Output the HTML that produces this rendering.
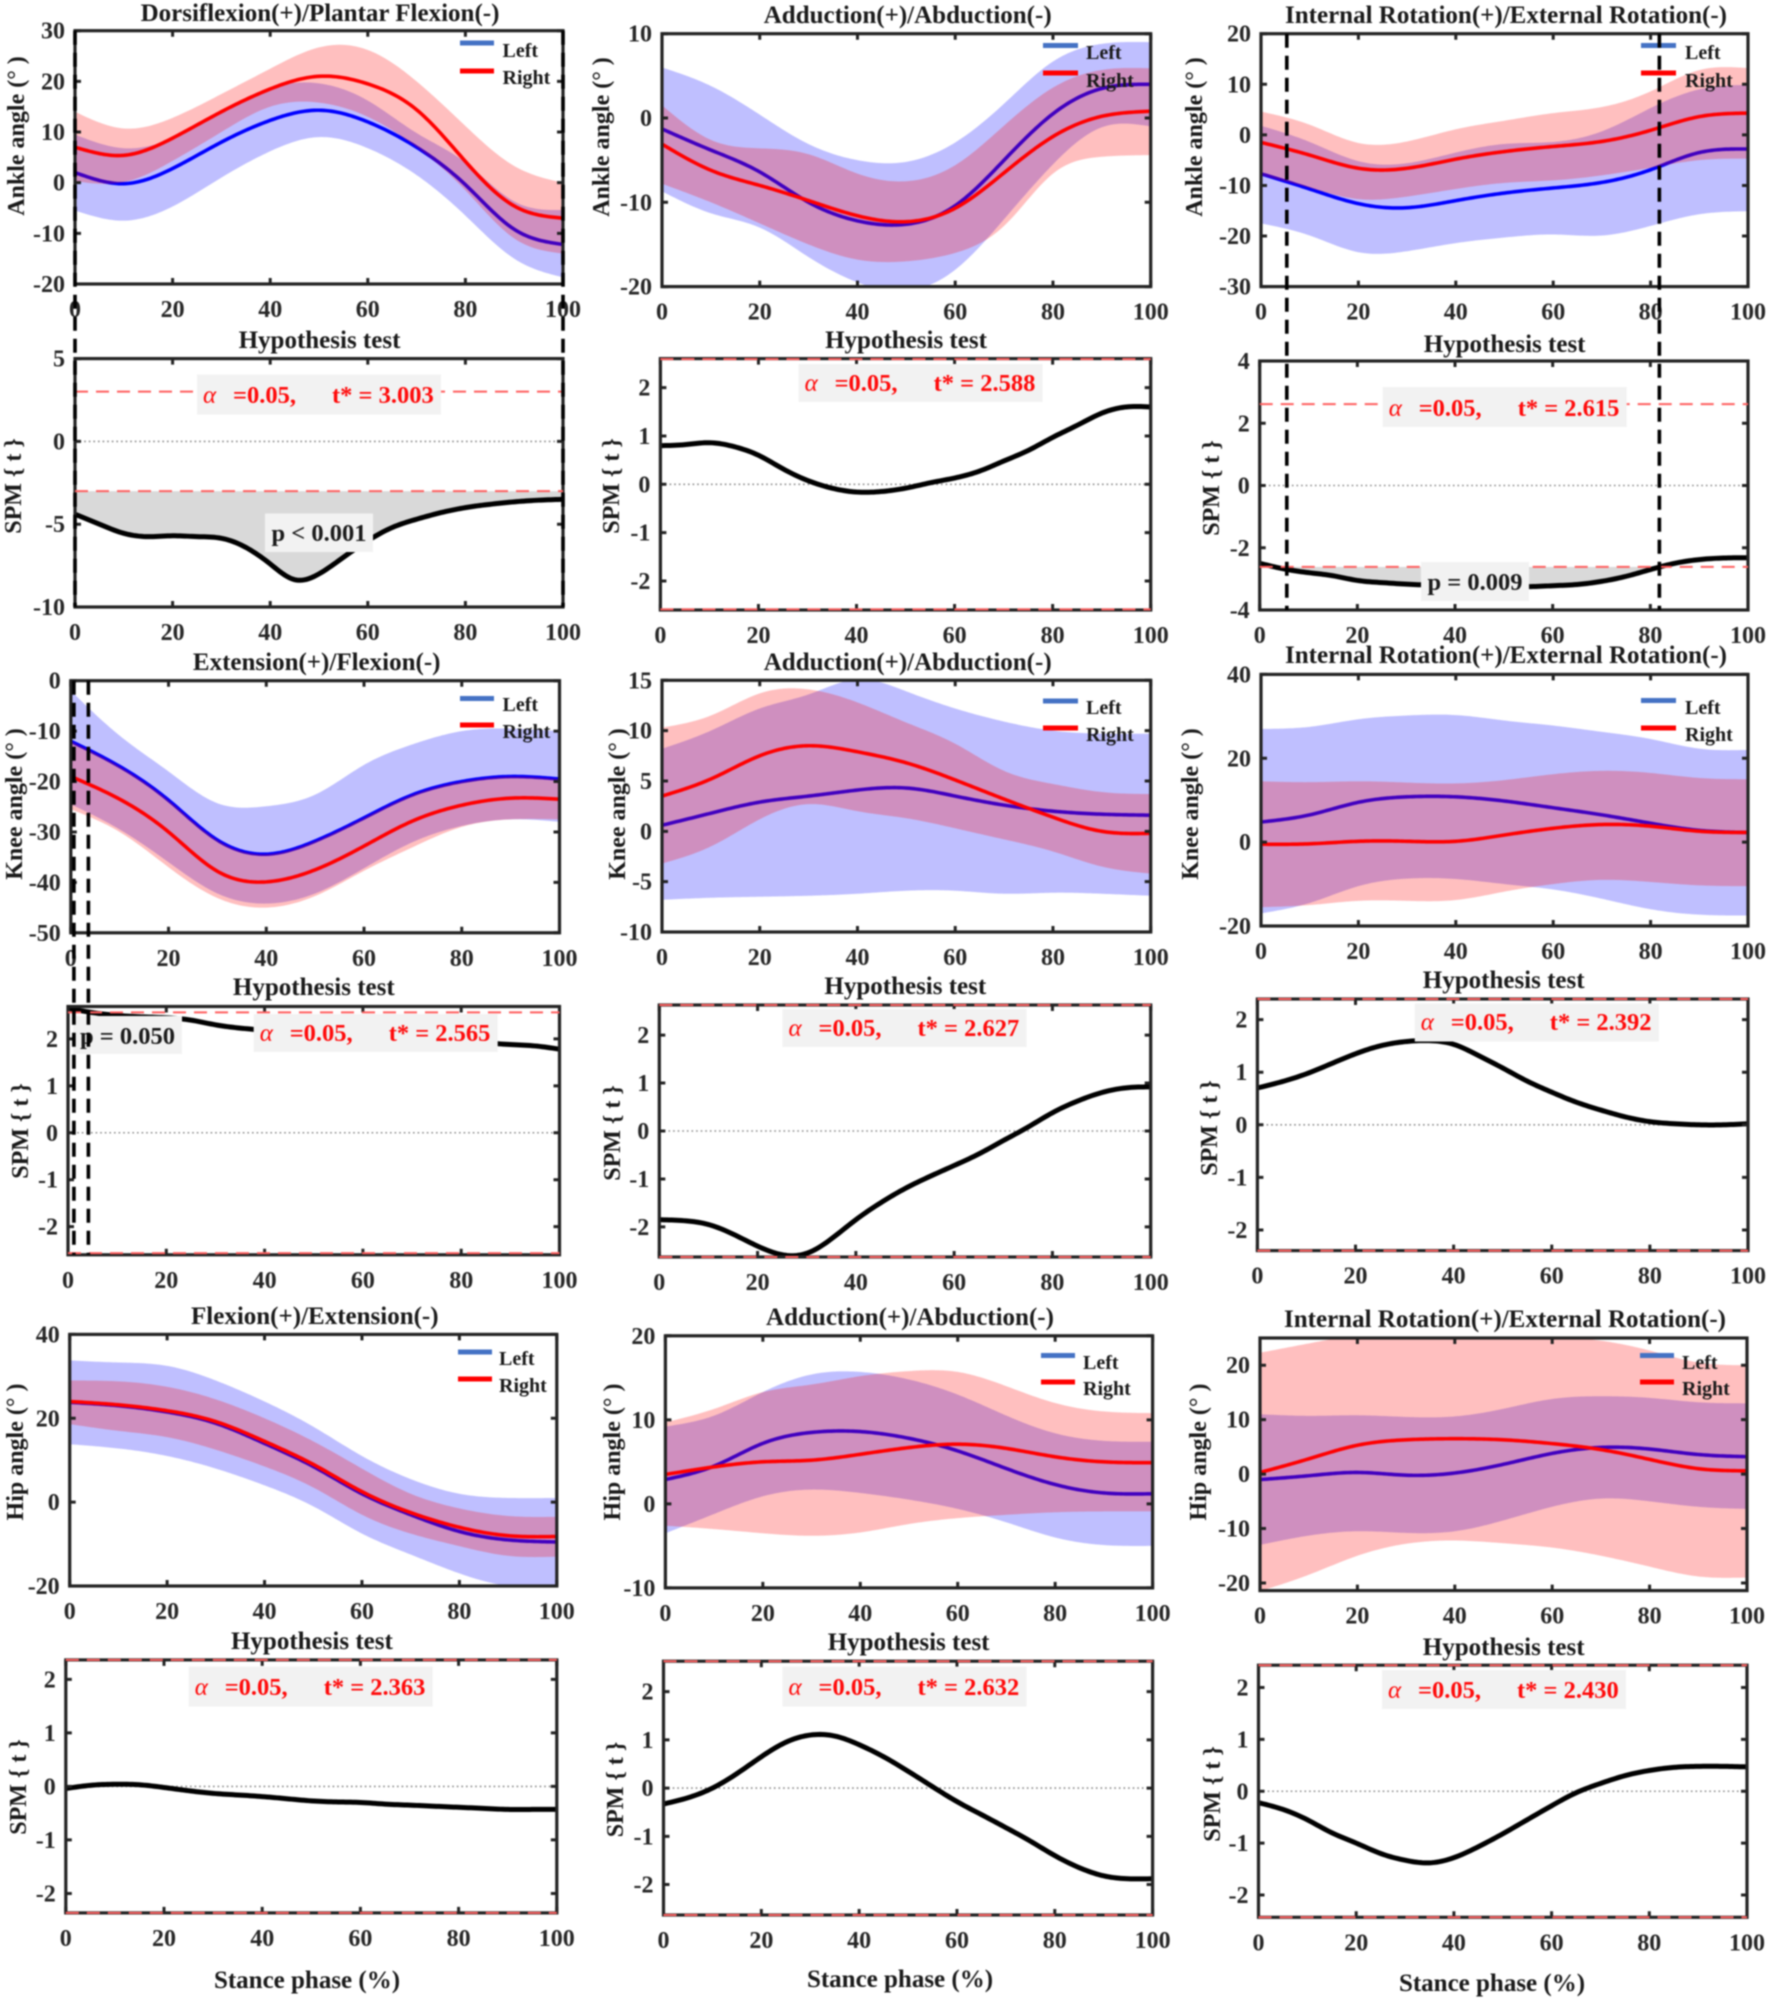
<!DOCTYPE html>
<html lang="en">
<head>
<meta charset="utf-8">
<title>Ankle, knee and hip angles with SPM hypothesis tests</title>
<style>
html,body{margin:0;padding:0;background:#fff;}
svg{display:block;filter:blur(0.8px);}
text{font-family:"Liberation Serif",serif;font-weight:bold;fill:#1a1a1a;}
.title{font-size:25px;text-anchor:middle;}
.ylab{font-size:24px;text-anchor:middle;}
.xlab{font-size:25px;text-anchor:middle;}
.tick{font-size:24px;fill:#262626;}
.leg{font-size:20px;}
.ann{font-size:24.5px;fill:#ff0a0a;}
.alpha{font-size:25px;font-style:italic;font-weight:normal;fill:#ff0a0a;}
.pval{font-size:24.5px;text-anchor:middle;}
</style>
</head>
<body>
<svg id="figure" xmlns="http://www.w3.org/2000/svg" width="1772" height="2001" viewBox="0 0 1772 2001">
<rect width="1772" height="2001" fill="#fff"/>
<g id="marks"></g>

<g id="titles">
<text class="title" x="320" y="21">Dorsiflexion(+)/Plantar Flexion(-)</text>
<text class="title" x="907.7" y="23">Adduction(+)/Abduction(-)</text>
<text class="title" x="1506" y="23">Internal Rotation(+)/External Rotation(-)</text>
<text class="title" x="319.5" y="348">Hypothesis test</text>
<text class="title" x="906" y="348">Hypothesis test</text>
<text class="title" x="1504.6" y="352">Hypothesis test</text>
<text class="title" x="316.7" y="670">Extension(+)/Flexion(-)</text>
<text class="title" x="907.7" y="670">Adduction(+)/Abduction(-)</text>
<text class="title" x="1506" y="663">Internal Rotation(+)/External Rotation(-)</text>
<text class="title" x="313.8" y="995">Hypothesis test</text>
<text class="title" x="905.3" y="994">Hypothesis test</text>
<text class="title" x="1503.7" y="988">Hypothesis test</text>
<text class="title" x="314.8" y="1324">Flexion(+)/Extension(-)</text>
<text class="title" x="910" y="1325">Adduction(+)/Abduction(-)</text>
<text class="title" x="1505" y="1327">Internal Rotation(+)/External Rotation(-)</text>
<text class="title" x="311.9" y="1649">Hypothesis test</text>
<text class="title" x="908.6" y="1650">Hypothesis test</text>
<text class="title" x="1503.7" y="1655">Hypothesis test</text>
</g>

<g id="ylabels">
<text class="ylab" transform="translate(24 136) rotate(-90)">Ankle angle (° )</text>
<text class="ylab" transform="translate(609 137) rotate(-90)">Ankle angle (° )</text>
<text class="ylab" transform="translate(1202 137) rotate(-90)">Ankle angle (° )</text>
<text class="ylab" transform="translate(21 486) rotate(-90)">SPM { t }</text>
<text class="ylab" transform="translate(619 486) rotate(-90)">SPM { t }</text>
<text class="ylab" transform="translate(1219 488) rotate(-90)">SPM { t }</text>
<text class="ylab" transform="translate(22 804) rotate(-90)">Knee angle (° )</text>
<text class="ylab" transform="translate(625 804) rotate(-90)">Knee angle (° )</text>
<text class="ylab" transform="translate(1198 804) rotate(-90)">Knee angle (° )</text>
<text class="ylab" transform="translate(28 1131) rotate(-90)">SPM { t }</text>
<text class="ylab" transform="translate(620 1133) rotate(-90)">SPM { t }</text>
<text class="ylab" transform="translate(1217 1128) rotate(-90)">SPM { t }</text>
<text class="ylab" transform="translate(23 1452) rotate(-90)">Hip angle (° )</text>
<text class="ylab" transform="translate(620 1452) rotate(-90)">Hip angle (° )</text>
<text class="ylab" transform="translate(1206 1452) rotate(-90)">Hip angle (° )</text>
<text class="ylab" transform="translate(26 1787) rotate(-90)">SPM { t }</text>
<text class="ylab" transform="translate(623 1789.5) rotate(-90)">SPM { t }</text>
<text class="ylab" transform="translate(1220 1794) rotate(-90)">SPM { t }</text>
</g>

<g id="xlabels">
<text class="xlab" x="307" y="1988">Stance phase (%)</text>
<text class="xlab" x="900" y="1987">Stance phase (%)</text>
<text class="xlab" x="1492" y="1991">Stance phase (%)</text>
</g>

<g id="legends">
<g>
<rect x="460" y="40.5" width="34" height="5" fill="#4472c4"/><text class="leg" x="502.5" y="57">Left</text>
<rect x="460" y="68.5" width="34" height="5" fill="#ff0000"/><text class="leg" x="502.5" y="84">Right</text></g>
<g>
<rect x="1043" y="43" width="35" height="5" fill="#4472c4"/><text class="leg" x="1086" y="59">Left</text>
<rect x="1043" y="70.5" width="35" height="5" fill="#ff0000"/><text class="leg" x="1086" y="87">Right</text></g>
<g>
<rect x="1641" y="43" width="35" height="5" fill="#4472c4"/><text class="leg" x="1685" y="59">Left</text>
<rect x="1641" y="70.5" width="35" height="5" fill="#ff0000"/><text class="leg" x="1685" y="87">Right</text></g>
<g>
<rect x="460" y="696" width="34" height="5" fill="#4472c4"/><text class="leg" x="502.5" y="711">Left</text>
<rect x="460" y="722.5" width="34" height="5" fill="#ff0000"/><text class="leg" x="502.5" y="738">Right</text></g>
<g>
<rect x="1043" y="698.5" width="35" height="5" fill="#4472c4"/><text class="leg" x="1086" y="714">Left</text>
<rect x="1043" y="725.5" width="35" height="5" fill="#ff0000"/><text class="leg" x="1086" y="741">Right</text></g>
<g>
<rect x="1641" y="698" width="35" height="5" fill="#4472c4"/><text class="leg" x="1685" y="714">Left</text>
<rect x="1641" y="725.5" width="35" height="5" fill="#ff0000"/><text class="leg" x="1685" y="741">Right</text></g>
<g>
<rect x="458" y="1349.5" width="34" height="5" fill="#4472c4"/><text class="leg" x="499" y="1365">Left</text>
<rect x="458" y="1376.5" width="34" height="5" fill="#ff0000"/><text class="leg" x="499" y="1392">Right</text></g>
<g>
<rect x="1041" y="1353" width="34" height="5" fill="#4472c4"/><text class="leg" x="1083" y="1369">Left</text>
<rect x="1041" y="1379.5" width="34" height="5" fill="#ff0000"/><text class="leg" x="1083" y="1395">Right</text></g>
<g>
<rect x="1640" y="1353" width="34" height="5" fill="#4472c4"/><text class="leg" x="1682" y="1369">Left</text>
<rect x="1640" y="1379.5" width="34" height="5" fill="#ff0000"/><text class="leg" x="1682" y="1395">Right</text></g>
</g>

<g id="annotations">
<g><rect x="197" y="374.6" width="244" height="40" fill="#f2f2f2"/><text y="403"><tspan class="alpha" x="203">α</tspan><tspan class="ann" x="233">=0.05,</tspan><tspan class="ann" x="332">t* = 3.003</tspan></text></g>
<g><rect x="798.6" y="364" width="244" height="38" fill="#f2f2f2"/><text y="391"><tspan class="alpha" x="804.6">α</tspan><tspan class="ann" x="834.6">=0.05,</tspan><tspan class="ann" x="933.6">t* = 2.588</tspan></text></g>
<g><rect x="1382.7" y="387" width="244" height="40" fill="#f2f2f2"/><text y="416"><tspan class="alpha" x="1388.7">α</tspan><tspan class="ann" x="1418.7">=0.05,</tspan><tspan class="ann" x="1517.7">t* = 2.615</tspan></text></g>
<g><rect x="253.7" y="1014" width="244" height="38" fill="#f2f2f2"/><text y="1041"><tspan class="alpha" x="259.7">α</tspan><tspan class="ann" x="289.7">=0.05,</tspan><tspan class="ann" x="388.7">t* = 2.565</tspan></text></g>
<g><rect x="782.5" y="1009" width="244" height="38" fill="#f2f2f2"/><text y="1036"><tspan class="alpha" x="788.5">α</tspan><tspan class="ann" x="818.5">=0.05,</tspan><tspan class="ann" x="917.5">t* = 2.627</tspan></text></g>
<g><rect x="1414.8" y="1003.5" width="244" height="38" fill="#f2f2f2"/><text y="1030"><tspan class="alpha" x="1420.8">α</tspan><tspan class="ann" x="1450.8">=0.05,</tspan><tspan class="ann" x="1549.8">t* = 2.392</tspan></text></g>
<g><rect x="188.7" y="1666.6" width="244" height="40" fill="#f2f2f2"/><text y="1695"><tspan class="alpha" x="194.7">α</tspan><tspan class="ann" x="224.7">=0.05,</tspan><tspan class="ann" x="323.7">t* = 2.363</tspan></text></g>
<g><rect x="782.5" y="1666.6" width="244" height="40" fill="#f2f2f2"/><text y="1695"><tspan class="alpha" x="788.5">α</tspan><tspan class="ann" x="818.5">=0.05,</tspan><tspan class="ann" x="917.5">t* = 2.632</tspan></text></g>
<g><rect x="1382" y="1670" width="244" height="39" fill="#f2f2f2"/><text y="1698"><tspan class="alpha" x="1388">α</tspan><tspan class="ann" x="1418">=0.05,</tspan><tspan class="ann" x="1517">t* = 2.430</tspan></text></g>
<g><rect x="265" y="513.5" width="108" height="38.5" fill="#f2f2f2"/><text class="pval" x="319" y="541">p &lt; 0.001</text></g>
<g><rect x="1421" y="562" width="108" height="39" fill="#f2f2f2"/><text class="pval" x="1475" y="590">p = 0.009</text></g>
<g><rect x="73" y="1016" width="109" height="38" fill="#f2f2f2"/><text class="pval" x="127.5" y="1044">p = 0.050</text></g>
</g>
<g id="overlay"></g>
</svg>

<script>
// Shared x positions of the samples
const stanceGrid = [0,10,20,30,40,50,60,70,80,90,100];
const spmGrid = [0,5,10,15,20,25,30,35,40,45,50,55,60,65,70,75,80,85,90,95,100];
const xTickValues = [0,20,40,60,80,100];
const xTickLabels = ['0','20','40','60','80','100'];

// Ankle dorsiflexion / plantar flexion
const ankleSagLeftMean = [2,-0.2,2.8,8,12.3,14.3,12,7,-0.4,-9.2,-12.2];
const ankleSagLeftUpper = [9.5,6.8,8.8,14,18.7,19.6,16.2,9.8,4,-3.7,-5.4];
const ankleSagLeftLower = [-5.5,-7.5,-4.7,1,6.2,9,6.8,1.5,-6.5,-15,-18.7];
const ankleSagRightMean = [7,5.4,8.8,14,18.5,21,19.5,14.4,4.2,-4.6,-7];
const ankleSagRightUpper = [14,10.7,12.8,17.5,22.5,26.7,26.2,20,11.2,3.3,0];
const ankleSagRightLower = [0.3,0.1,4.3,10,15,15.8,13,7,-1.5,-11,-14];
const ankleSagTicks = [-20,-10,0,10,20,30];
// Ankle adduction / abduction
const ankleFrontLeftMean = [-1.3,-3.8,-6.4,-10,-12.2,-12.6,-10.4,-5,0.5,3.5,4];
const ankleFrontLeftUpper = [6,3.8,0.4,-3.1,-5,-5.2,-2.9,1.7,6.7,8.8,9];
const ankleFrontLeftLower = [-8.7,-11.3,-13,-16.5,-19.5,-20.5,-18,-12,-5.5,-1.1,-1];
const ankleFrontRightMean = [-3.1,-6.2,-8,-9.8,-11.6,-12.3,-10.7,-6.5,-2.2,0.2,0.8];
const ankleFrontRightUpper = [1.5,-2.6,-3.6,-4.3,-6.6,-7.5,-5.6,-0.9,3.6,5.7,5.9];
const ankleFrontRightLower = [-7.8,-10,-12.5,-15,-16.8,-17,-16,-12.8,-6.6,-4.6,-4.4];
const ankleFrontTicks = [-20,-10,0,10];
// Ankle internal / external rotation
const ankleTransLeftMean = [-7.7,-10.7,-13.6,-14.4,-13,-11.5,-10.5,-9.4,-6.9,-3.5,-2.8];
const ankleTransLeftUpper = [1.8,-1.4,-5.2,-5.6,-3.5,-1.8,-1.4,0.7,5.3,9,9.9];
const ankleTransLeftLower = [-17.5,-19.9,-23.2,-23,-21.4,-20.3,-19.7,-19.9,-18,-15.7,-15.1];
const ankleTransRightMean = [-1.5,-4,-6.6,-6.6,-4.8,-3.3,-2.3,-1.3,0.9,3.6,4.3];
const ankleTransRightUpper = [4.6,2,-1.6,-1.3,1.1,2.8,4.3,5.5,8.6,12.8,13.2];
const ankleTransRightLower = [-8,-10.5,-12.7,-12.2,-10.7,-9.5,-9,-8,-6.5,-5,-4.7];
const ankleTransTicks = [-30,-20,-10,0,10,20];
// Knee extension / flexion
const kneeSagLeftMean = [-12,-17,-23.7,-31.6,-34.4,-31.8,-27.2,-22.6,-20,-19,-19.5];
const kneeSagLeftUpper = [-2,-10.9,-18,-24.3,-24.9,-22.6,-16.7,-12.6,-10,-9.5,-10];
const kneeSagLeftLower = [-24.5,-29.5,-36,-42.2,-44.2,-42.2,-37.2,-32,-28.8,-27.5,-28];
const kneeSagRightMean = [-19,-23.5,-30,-37.8,-39.9,-37.5,-32.8,-27.8,-24.7,-23.3,-23.5];
const kneeSagRightUpper = [-12,-17,-23.7,-31.6,-34.4,-31.8,-27.2,-22.6,-20,-19,-19.5];
const kneeSagRightLower = [-25.5,-30,-37,-43.1,-45,-42.7,-37.7,-33,-29,-27.5,-27.5];
const kneeSagTicks = [-50,-40,-30,-20,-10,0];
// Knee adduction / abduction
const kneeFrontLeftMean = [0.6,1.8,2.9,3.5,4.1,4.3,3.5,2.6,2,1.7,1.6];
const kneeFrontLeftUpper = [8.2,10,12.2,13.6,15.1,13.9,12.2,10.9,10,9.7,9.7];
const kneeFrontLeftLower = [-6.8,-6.6,-6.5,-6.4,-6.2,-5.9,-5.9,-6.2,-6.1,-6.2,-6.4];
const kneeFrontRightMean = [3.5,5.2,7.5,8.5,7.9,6.8,5.1,3.2,1.4,0,-0.2];
const kneeFrontRightUpper = [10.3,11.5,13.7,14.1,12.8,10.8,8.7,6,4.7,3.9,3.7];
const kneeFrontRightLower = [-3.2,-1.5,1.2,2.7,2,1.3,0.3,-0.8,-2,-3.5,-4.2];
const kneeFrontTicks = [-10,-5,0,5,10,15];
// Knee internal / external rotation
const kneeTransLeftMean = [4.8,6.5,9.5,10.8,10.8,9.8,8.2,6.5,4.5,2.8,2.3];
const kneeTransLeftUpper = [27,27.5,29.3,30.2,30.3,29,27.8,26.3,24.6,22.3,22];
const kneeTransLeftLower = [-17,-14.5,-10.5,-8.7,-8.8,-10,-11.3,-13.5,-16,-17.3,-17.5];
const kneeTransRightMean = [-0.5,-0.4,0.2,0.2,0.2,1.7,3.3,4.2,3.8,2.6,2.3];
const kneeTransRightUpper = [14.5,14.3,14.5,14.2,14,14.8,16.2,17,16.5,15.3,15];
const kneeTransRightLower = [-15.5,-15,-14,-14,-13.8,-11.8,-10,-9,-9.5,-10.3,-10.5];
const kneeTransTicks = [-20,0,20,40];
// Hip flexion / extension
const hipSagLeftMean = [23.8,23,21.5,18.8,14,8.5,2,-3,-7,-9,-9.5];
const hipSagLeftUpper = [33.8,33.3,32.5,29,24,18,11,5.5,2,1,1];
const hipSagLeftLower = [13.8,12.8,11,8,4,-1,-7.5,-12.5,-17,-20,-20.5];
const hipSagRightMean = [24,23.2,21.8,19.2,14.5,9,2.5,-2.5,-6,-8,-8.2];
const hipSagRightUpper = [29,28.8,27.5,24.5,20,14.5,8,2,-1.5,-3.3,-3.5];
const hipSagRightLower = [18.6,17,15.5,12.5,8.5,3.5,-3,-7.5,-10.5,-12.8,-13];
const hipSagTicks = [-20,0,20,40];
// Hip adduction / abduction
const hipFrontLeftMean = [2.9,4.5,7.2,8.5,8.6,7.8,6.3,4.2,2.3,1.3,1.2];
const hipFrontLeftUpper = [9.2,10.5,13.3,15.4,15.7,14.8,13,10.5,8.4,7.5,7.4];
const hipFrontLeftLower = [-3.5,-1.2,0.9,1.7,1.3,0.5,-0.6,-2.2,-4,-4.9,-5];
const hipFrontRightMean = [3.5,4.4,5,5.2,5.9,6.7,7.1,6.6,5.6,5,4.9];
const hipFrontRightUpper = [9.7,11.3,13.3,14.2,15.2,15.8,15.7,14,12,11,10.8];
const hipFrontRightLower = [-2.6,-3,-3.5,-3.8,-3.4,-2.4,-1.7,-1.3,-1,-0.9,-0.9];
const hipFrontTicks = [-10,0,10,20];
// Hip internal / external rotation
const hipTransLeftMean = [-1,-0.3,0.3,-0.2,0.2,1.8,3.8,4.9,4.6,3.6,3.2];
const hipTransLeftUpper = [11,10.7,10.8,10.5,10.6,12,13.8,14.3,14,13.2,13];
const hipTransLeftLower = [-13,-11.3,-10.5,-10.8,-10.5,-8.5,-6,-4.5,-5,-6,-6.4];
const hipTransRightMean = [0.3,2.8,5.3,6.3,6.5,6.3,5.6,4.5,2.7,1,0.6];
const hipTransRightUpper = [22.3,24,25.5,26,26,25.8,25.3,24.5,22.7,20.5,20];
const hipTransRightLower = [-21.5,-18.5,-15,-12.8,-12.2,-12.7,-13.5,-15,-17,-18.8,-19];
const hipTransTicks = [-20,-10,0,10,20];

// SPM{t} curves
const spmAnkleSag = [-4.4,-5,-5.55,-5.75,-5.7,-5.75,-5.85,-6.4,-7.4,-8.35,-8,-7,-6,-5.2,-4.7,-4.3,-4,-3.8,-3.65,-3.55,-3.5];
const spmAnkleFront = [0.8,0.82,0.86,0.78,0.6,0.32,0.08,-0.08,-0.16,-0.15,-0.08,0.03,0.13,0.27,0.48,0.7,0.97,1.22,1.47,1.6,1.6];
const spmAnkleTrans = [-2.5,-2.68,-2.8,-2.9,-3.05,-3.12,-3.17,-3.2,-3.22,-3.22,-3.24,-3.25,-3.22,-3.18,-3.08,-2.92,-2.7,-2.5,-2.38,-2.33,-2.32];
const spmKneeSag = [2.65,2.56,2.5,2.47,2.45,2.4,2.3,2.23,2.18,2.12,2.06,2,1.98,1.96,1.95,1.93,1.92,1.91,1.88,1.85,1.78];
const spmKneeFront = [-1.85,-1.87,-1.95,-2.15,-2.4,-2.58,-2.55,-2.25,-1.85,-1.5,-1.2,-0.95,-0.72,-0.48,-0.2,0.08,0.38,0.62,0.8,0.9,0.92];
const spmKneeTrans = [0.7,0.82,0.97,1.16,1.35,1.5,1.58,1.6,1.53,1.32,1.08,0.83,0.62,0.43,0.28,0.15,0.06,0.02,0,0,0.02];
const spmHipSag = [-0.04,0.02,0.04,0.03,-0.02,-0.08,-0.13,-0.16,-0.19,-0.23,-0.27,-0.29,-0.3,-0.33,-0.35,-0.37,-0.39,-0.41,-0.43,-0.43,-0.43];
const spmHipFront = [-0.33,-0.2,0,0.3,0.65,0.95,1.1,1.08,0.9,0.65,0.35,0.03,-0.28,-0.55,-0.82,-1.1,-1.4,-1.65,-1.82,-1.88,-1.88];
const spmHipTrans = [-0.22,-0.35,-0.55,-0.8,-1,-1.2,-1.33,-1.38,-1.28,-1.07,-0.82,-0.55,-0.28,-0.03,0.15,0.3,0.4,0.46,0.48,0.48,0.47];
const spmTickFive = [-10,-5,0,5];
const spmTickFour = [-4,-2,0,2,4];
const spmTickTwo = [-2,-1,0,1,2];
// Critical thresholds t*
const tStarAnkleSag = 3.003;
const tStarAnkleFront = 2.588;
const tStarAnkleTrans = 2.615;
const tStarKneeSag = 2.565;
const tStarKneeFront = 2.627;
const tStarKneeTrans = 2.392;
const tStarHipSag = 2.363;
const tStarHipFront = 2.632;
const tStarHipTrans = 2.43;
// Supra-threshold cluster bounds, % stance
const clusterAnkleSag = [0,100];
const clusterAnkleTrans = [5.55,81.85];
const clusterKneeSag = [1.2,4.15];

const anglePanels = [
 {id:'ankle-sagittal',L:75,R:563,T:30.7,B:284,yMin:-20,yMax:30,ticks:ankleSagTicks,lm:ankleSagLeftMean,lu:ankleSagLeftUpper,ll:ankleSagLeftLower,rm:ankleSagRightMean,ru:ankleSagRightUpper,rl:ankleSagRightLower},
 {id:'ankle-frontal',L:662,R:1150.7,T:33.7,B:286.6,yMin:-20,yMax:10,ticks:ankleFrontTicks,lm:ankleFrontLeftMean,lu:ankleFrontLeftUpper,ll:ankleFrontLeftLower,rm:ankleFrontRightMean,ru:ankleFrontRightUpper,rl:ankleFrontRightLower},
 {id:'ankle-transverse',L:1261,R:1748,T:33.7,B:286.6,yMin:-30,yMax:20,ticks:ankleTransTicks,lm:ankleTransLeftMean,lu:ankleTransLeftUpper,ll:ankleTransLeftLower,rm:ankleTransRightMean,ru:ankleTransRightUpper,rl:ankleTransRightLower},
 {id:'knee-sagittal',L:70.8,R:559.5,T:680.7,B:932.8,yMin:-50,yMax:0,ticks:kneeSagTicks,lm:kneeSagLeftMean,lu:kneeSagLeftUpper,ll:kneeSagLeftLower,rm:kneeSagRightMean,ru:kneeSagRightUpper,rl:kneeSagRightLower},
 {id:'knee-frontal',L:662,R:1150.7,T:680.3,B:932,yMin:-10,yMax:15,ticks:kneeFrontTicks,lm:kneeFrontLeftMean,lu:kneeFrontLeftUpper,ll:kneeFrontLeftLower,rm:kneeFrontRightMean,ru:kneeFrontRightUpper,rl:kneeFrontRightLower},
 {id:'knee-transverse',L:1261,R:1748,T:674.4,B:926,yMin:-20,yMax:40,ticks:kneeTransTicks,lm:kneeTransLeftMean,lu:kneeTransLeftUpper,ll:kneeTransLeftLower,rm:kneeTransRightMean,ru:kneeTransRightUpper,rl:kneeTransRightLower},
 {id:'hip-sagittal',L:69.7,R:556.8,T:1334.4,B:1586,yMin:-20,yMax:40,ticks:hipSagTicks,lm:hipSagLeftMean,lu:hipSagLeftUpper,ll:hipSagLeftLower,rm:hipSagRightMean,ru:hipSagRightUpper,rl:hipSagRightLower},
 {id:'hip-frontal',L:665.4,R:1152.6,T:1335.8,B:1587.9,yMin:-10,yMax:20,ticks:hipFrontTicks,lm:hipFrontLeftMean,lu:hipFrontLeftUpper,ll:hipFrontLeftLower,rm:hipFrontRightMean,ru:hipFrontRightUpper,rl:hipFrontRightLower},
 {id:'hip-transverse',L:1260,R:1747,T:1338,B:1590.6,yMin:-21.4,yMax:25,ticks:hipTransTicks,lm:hipTransLeftMean,lu:hipTransLeftUpper,ll:hipTransLeftLower,rm:hipTransRightMean,ru:hipTransRightUpper,rl:hipTransRightLower}
];
const spmPanels = [
 {id:'ankle-sagittal-spm',L:75,R:563,T:358.6,B:607,yMin:-10,yMax:5,ticks:spmTickFive,curve:spmAnkleSag,t:tStarAnkleSag,fill:'below',cluster:clusterAnkleSag,topT:30.7},
 {id:'ankle-frontal-spm',L:660.4,R:1150.7,T:358.6,B:610,yMin:-2.6,yMax:2.6,ticks:spmTickTwo,curve:spmAnkleFront,t:tStarAnkleFront},
 {id:'ankle-transverse-spm',L:1259.7,R:1748,T:361,B:610,yMin:-4,yMax:4,ticks:spmTickFour,curve:spmAnkleTrans,t:tStarAnkleTrans,fill:'below',cluster:clusterAnkleTrans,topT:33.7},
 {id:'knee-sagittal-spm',L:68,R:559.5,T:1006.5,B:1254.8,yMin:-2.6,yMax:2.69,ticks:spmTickTwo,curve:spmKneeSag,t:tStarKneeSag,fill:'above',cluster:clusterKneeSag,topT:680.7},
 {id:'knee-frontal-spm',L:659.3,R:1150.7,T:1005,B:1257,yMin:-2.627,yMax:2.627,ticks:spmTickTwo,curve:spmKneeFront,t:tStarKneeFront},
 {id:'knee-transverse-spm',L:1257.4,R:1748,T:999,B:1250.6,yMin:-2.392,yMax:2.392,ticks:spmTickTwo,curve:spmKneeTrans,t:tStarKneeTrans},
 {id:'hip-sagittal-spm',L:65.8,R:556.8,T:1659.9,B:1912.9,yMin:-2.363,yMax:2.363,ticks:spmTickTwo,curve:spmHipSag,t:tStarHipSag},
 {id:'hip-frontal-spm',L:663.5,R:1152.6,T:1661.2,B:1915,yMin:-2.632,yMax:2.632,ticks:spmTickTwo,curve:spmHipFront,t:tStarHipFront},
 {id:'hip-transverse-spm',L:1258.5,R:1747,T:1665.2,B:1917.3,yMin:-2.43,yMax:2.43,ticks:spmTickTwo,curve:spmHipTrans,t:tStarHipTrans}
];

const NS = 'http://www.w3.org/2000/svg';
const marksRoot = document.getElementById('marks');
const overlayRoot = document.getElementById('overlay');

function mk(tag, attrs, parent){
  const el = document.createElementNS(NS, tag);
  for (const k in attrs) el.setAttribute(k, attrs[k]);
  parent.appendChild(el);
  return el;
}
function axisX(p){ return v => p.L + (v / 100) * (p.R - p.L); }
function axisY(p){ return v => p.B - ((v - p.yMin) / (p.yMax - p.yMin)) * (p.B - p.T); }

// Natural cubic spline through the sampled values
function spline(xs, ys){
  const n = xs.length, a = new Array(n).fill(0), b = new Array(n).fill(0), m = new Array(n).fill(0);
  for (let i = 1; i < n - 1; i++){
    const h0 = xs[i] - xs[i - 1], h1 = xs[i + 1] - xs[i];
    const d = (ys[i + 1] - ys[i]) / h1 - (ys[i] - ys[i - 1]) / h0;
    const w = 2 * (h0 + h1) - h0 * a[i - 1];
    a[i] = h1 / w;
    b[i] = (6 * d - h0 * b[i - 1]) / w;
  }
  for (let i = n - 2; i > 0; i--) m[i] = b[i] - a[i] * m[i + 1];
  return x => {
    let i = 0;
    while (i < n - 2 && x > xs[i + 1]) i++;
    const h = xs[i + 1] - xs[i], A = (xs[i + 1] - x) / h, B = (x - xs[i]) / h;
    return A * ys[i] + B * ys[i + 1] + ((A * A * A - A) * m[i] + (B * B * B - B) * m[i + 1]) * h * h / 6;
  };
}
function curveSegs(xs, ys, sx, sy, start, reversed){
  const f = spline(xs, ys);
  let d = '';
  for (let k = 0; k <= 200; k++){
    const x = reversed ? 100 - k / 2 : k / 2;
    d += ((k === 0 && start) ? 'M' : 'L') + sx(x).toFixed(2) + ' ' + sy(f(x)).toFixed(2);
  }
  return d;
}
function bandPath(upper, lower, sx, sy){
  return curveSegs(stanceGrid, upper, sx, sy, true, false) + curveSegs(stanceGrid, lower, sx, sy, false, true) + 'Z';
}

function drawFrame(p, g, sx, sy){
  const frame = mk('rect', {x:p.L, y:p.T, width:p.R - p.L, height:p.B - p.T, fill:'none', stroke:'#232323', 'stroke-width':3.2}, g);
  
  
  xTickValues.forEach((v, i) => {
    const x = sx(v);
    const tb = mk('path', {d:'M' + x + ' ' + p.B + 'v-6M' + x + ' ' + p.T + 'v6', stroke:'#232323', 'stroke-width':3, fill:'none'}, g);
    
    
    const lab = mk('text', {class:'tick', x:x, y:p.B + 33, 'text-anchor':'middle'}, g);
    lab.textContent = xTickLabels[i];
    
    
  });
  p.ticks.forEach(v => {
    const y = sy(v);
    const tk = mk('path', {d:'M' + p.L + ' ' + y + 'h6M' + p.R + ' ' + y + 'h-6', stroke:'#232323', 'stroke-width':3, fill:'none'}, g);
    
    
    const lab = mk('text', {class:'tick', x:p.L - 10, y:y + 8, 'text-anchor':'end'}, g);
    lab.textContent = String(v);
    
    
  });
}

let clipCount = 0;
function addClip(x, y, w, h){
  clipCount += 1;
  const id = 'clip' + clipCount;
  const c = mk('clipPath', {id:id}, marksRoot);
  mk('rect', {x:x, y:y, width:w, height:h}, c);
  return 'url(#' + id + ')';
}

anglePanels.forEach(p => {
  const sx = axisX(p), sy = axisY(p);
  const g = mk('g', {}, marksRoot);
  
  
  const plot = mk('g', {'clip-path':addClip(p.L, p.T, p.R - p.L, p.B - p.T)}, g);
  const lb = mk('path', {d:bandPath(p.lu, p.ll, sx, sy), fill:'#0000ff', 'fill-opacity':0.25}, plot);
  
  
  const ll = mk('path', {d:curveSegs(stanceGrid, p.lm, sx, sy, true, false), fill:'none', stroke:'#0000ff', 'stroke-width':3.6}, plot);
  
  
  const rb = mk('path', {d:bandPath(p.ru, p.rl, sx, sy), fill:'#ff0000', 'fill-opacity':0.25}, plot);
  
  
  const rl = mk('path', {d:curveSegs(stanceGrid, p.rm, sx, sy, true, false), fill:'none', stroke:'#ff0000', 'stroke-width':3.6}, plot);
  
  
  drawFrame(p, g, sx, sy);
});

spmPanels.forEach(p => {
  const sx = axisX(p), sy = axisY(p);
  const g = mk('g', {}, marksRoot);
  
  
  const plot = mk('g', {'clip-path':addClip(p.L, p.T, p.R - p.L, p.B - p.T)}, g);
  if (p.fill){
    const level = p.fill === 'below' ? -p.t : p.t;
    const ty = sy(level);
    const clip = p.fill === 'below' ? addClip(p.L, ty, p.R - p.L, p.B - ty) : addClip(p.L, p.T, p.R - p.L, ty - p.T);
    const d = curveSegs(spmGrid, p.curve, sx, sy, true, false) + 'L' + sx(100) + ' ' + ty + 'L' + sx(0) + ' ' + ty + 'Z';
    const area = mk('path', {d:d, fill:'#d9d9d9', 'clip-path':clip}, plot);
    
    
  }
  const zero = mk('line', {x1:sx(0), x2:sx(100), y1:sy(0), y2:sy(0), stroke:'#8a8a8a', 'stroke-width':1.6, 'stroke-dasharray':'1.6 3'}, plot);
  
  
  const line = mk('path', {d:curveSegs(spmGrid, p.curve, sx, sy, true, false), fill:'none', stroke:'#000', 'stroke-width':5}, plot);
  
  
  drawFrame(p, g, sx, sy);
  [p.t, -p.t].forEach(level => {
    const th = mk('line', {x1:sx(0), x2:sx(100), y1:sy(level), y2:sy(level), stroke:'#ff5f5f', 'stroke-width':2, 'stroke-dasharray':'13 8'}, g);
    
    
  });
  if (p.cluster){
    p.cluster.forEach(v => {
      const b = mk('line', {x1:sx(v), x2:sx(v), y1:p.topT, y2:p.B, stroke:'#000', 'stroke-width':3.6, 'stroke-dasharray':'14 8'}, overlayRoot);
      
      
    });
  }
});
</script>
</body>
</html>
